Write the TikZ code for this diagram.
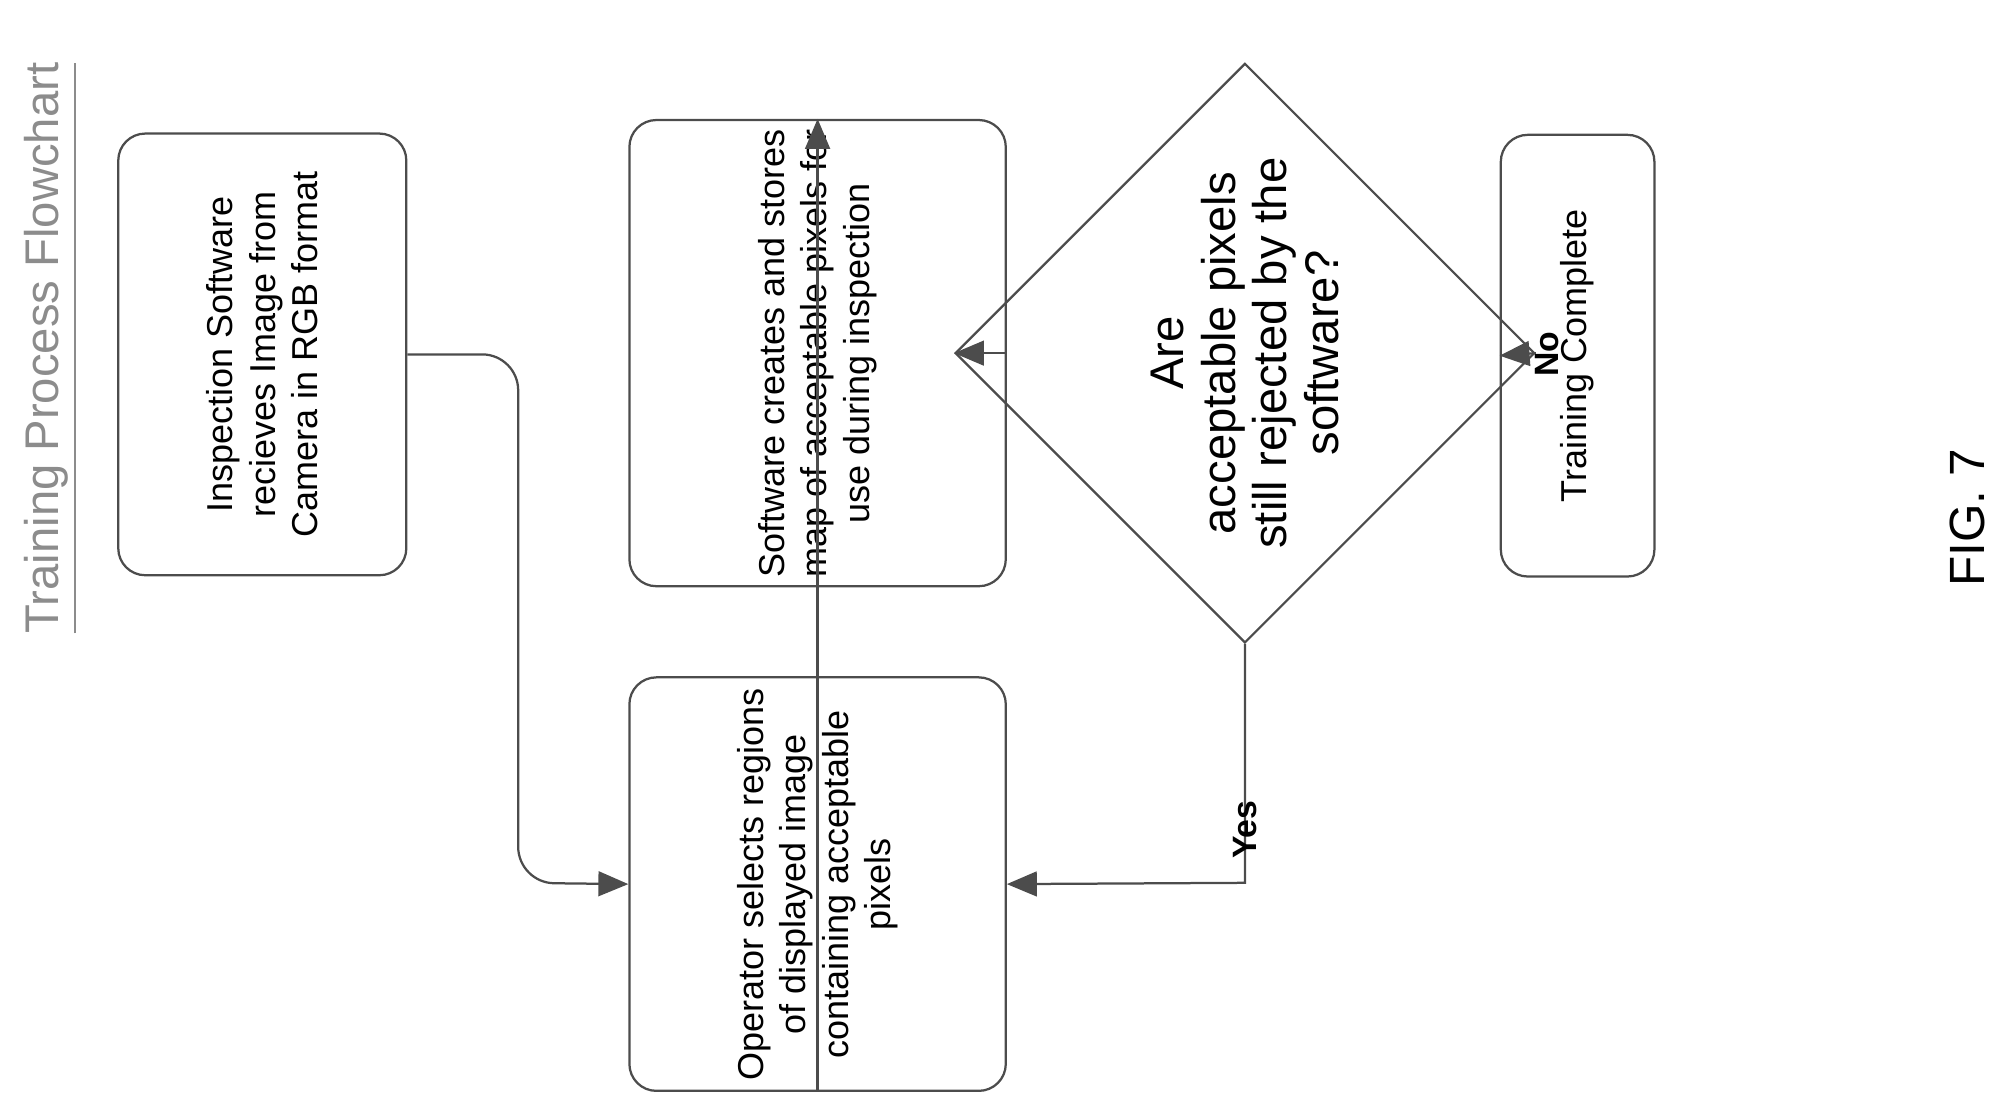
\documentclass[tikz,border=0pt]{standalone}
\usepackage{fontspec}
\setmainfont{Liberation Sans}
\usetikzlibrary{shapes.geometric}
\usetikzlibrary{arrows,positioning}
\tikzstyle{bx}=[draw, rounded corners=6pt, rotate=90, align=center, font=\fontsize{8}{9.4}\selectfont, inner sep=2pt]
\tikzstyle{dm}=[draw, diamond, rotate=90, align=center, inner sep=0pt, font=\fontsize{10.5}{11.5}\selectfont]
\tikzstyle{lb}=[rotate=90, font=\bfseries\fontsize{7.5}{8}\selectfont]

\begin{document}
\begin{tikzpicture}
[->,thick,>=triangle 45, line width=0.5pt, draw=black!70, x=0.01cm, y=-0.01cm]
 \useasboundingbox (0,0) rectangle (1560,865);
 \node[rotate=90, text=black!45, font=\fontsize{10.5}{12}\selectfont] (title) at (40,272) {\underline{Training Process Flowchart}};
 \node[bx, minimum width=3.45cm, minimum height=2.25cm] (in) at (205,277) {Inspection Software\\recieves Image from\\Camera in RGB format};
 \node[bx, minimum width=3.23cm, minimum height=2.94cm] (op) at (639,691) {Operator selects regions\\of displayed image\\containing acceptable\\pixels};
 \node[bx, minimum width=3.46cm, minimum height=2.94cm] (sw) at (639,276) {Software creates and stores\\map of acceptable pixels for\\use during inspection};
 \node[dm, minimum width=4.02cm, minimum height=2.44cm] (q) at (973,276) {Are\\acceptable pixels\\still rejected by the\\software?};
 \node[bx, minimum width=3.45cm, minimum height=1.2cm] (done) at (1233,278) {Training Complete};
 \node[rotate=90, font=\fontsize{11}{12}\selectfont] (fig) at (1538,405) {FIG. 7};
 \coordinate (c1) at (405,690);
 \coordinate (c2) at (973,690);
 \draw[rounded corners=8pt] (in.south) -| (c1) -- (op.north);
 \draw (op.west) -- (sw.east);
 \draw (sw.south) -- (q.north);
 \draw (q.north) ++(0,0) (q.south) -- node[lb, pos=0.45, below] {No} (done.north);
 \draw (q.west) -- (c2) node[lb, pos=0.93, right, xshift=-2pt] {Yes} -- (op.south);
\end{tikzpicture}
\end{document}
